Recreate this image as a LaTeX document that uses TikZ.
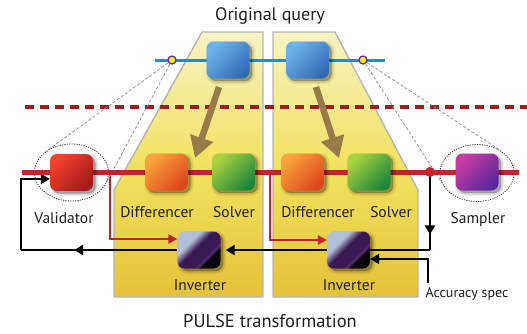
\documentclass[tikz,border=0pt]{standalone}
\usepackage{fontspec}
\setmainfont{PT Sans}
\usetikzlibrary{arrows.meta,shapes.geometric,decorations.markings}

\definecolor{ink}{HTML}{1E1E1E}
\definecolor{panelTop}{HTML}{F7F3C4}
\definecolor{panelMid}{HTML}{F2E262}
\definecolor{panelBot}{HTML}{E4C238}
\definecolor{panelEdge}{HTML}{B5B5B5}
\definecolor{wire}{HTML}{C3242C}
\definecolor{dashred}{HTML}{A31B1F}
\definecolor{qline}{HTML}{1B8FD2}
\definecolor{brown}{HTML}{9A7A48}
\definecolor{ringc}{HTML}{3A3A3A}
\definecolor{dotfill}{HTML}{F5EC20}
\definecolor{dotedge}{HTML}{6A2A90}
\definecolor{qA}{HTML}{6CB4EA}
\definecolor{qB}{HTML}{346CB4}
\definecolor{rA}{HTML}{F4422E}
\definecolor{rB}{HTML}{A51A1A}
\definecolor{oA}{HTML}{F9A63C}
\definecolor{oB}{HTML}{DE461E}
\definecolor{gA}{HTML}{AAD242}
\definecolor{gB}{HTML}{1E873A}
\definecolor{pA}{HTML}{C83CA2}
\definecolor{pB}{HTML}{58299C}
\definecolor{kA}{HTML}{B4C0D8}
\definecolor{kM}{HTML}{3A1A52}
\definecolor{kH}{HTML}{5A2A78}
\definecolor{kD}{HTML}{0A0410}

% glossy dark fill of the inverters: pale corner, purple body, black tail
\pgfdeclarehorizontalshading{invshade}{100bp}{%
  color(0bp)=(kA); color(35bp)=(kA); color(46bp)=(kM); color(61bp)=(kM);
  color(64bp)=(kH); color(67bp)=(kD); color(100bp)=(black)}

\pgfdeclarelayer{back}
\pgfdeclarelayer{wires}
\pgfsetlayers{back,wires,main}

\begin{document}
\begin{tikzpicture}[x=1pt,y=-1pt,
  softshadow/.style={
    preaction={fill=black, draw=black, line width=6pt, opacity=0.07,
      transform canvas={shift={(2.5pt,-2.5pt)}}},
    preaction={fill=black, draw=black, line width=3pt, opacity=0.09,
      transform canvas={shift={(2.5pt,-2.5pt)}}},
    preaction={fill=black, opacity=0.14,
      transform canvas={shift={(2.5pt,-2.5pt)}}}},
  box/.style={rounded corners=7pt, minimum width=43pt, minimum height=37pt,
    inner sep=0pt, softshadow},
  qbox/.style={box, top color=qA, bottom color=qB, shading angle=45},
  rbox/.style={box, top color=rA, bottom color=rB, shading angle=45},
  obox/.style={box, top color=oA, bottom color=oB, shading angle=45},
  gbox/.style={box, top color=gA, bottom color=gB, shading angle=45},
  pbox/.style={box, top color=pA, bottom color=pB, shading angle=45},
  kbox/.style={box, shade, shading=invshade, shading angle=-45},
  panel/.style={draw=panelEdge, line width=1.4pt, top color=panelTop,
    bottom color=panelBot, middle color=panelMid},
  ring/.style={ellipse, draw=ringc, line width=0.8pt,
    dash pattern=on 1.2pt off 1.2pt, minimum width=74pt, minimum height=57pt,
    inner sep=0pt},
  zoomline/.style={draw=gray!85, line width=0.8pt, dash pattern=on 3pt off 2pt},
  blk/.style={draw=black, line width=2.4pt},
  tipk/.style={-{Triangle[width=10pt,length=9pt]}},
  redthin/.style={draw=wire, line width=2.2pt, -{Triangle[width=9pt,length=9pt]}},
  arrowat/.style={postaction={decorate}, decoration={markings,
    mark=at position #1 with {\arrow{Triangle[width=10pt,length=9pt]}}}},
  lbl/.style={font=\fontsize{15.5}{18}\selectfont, text=ink, inner sep=0pt, anchor=base},
  ydot/.style={circle, fill=dotfill, draw=dotedge, line width=1.3pt,
    minimum size=8pt, inner sep=0pt},
]
\useasboundingbox (0,0) rectangle (527,333);

% the two transformation panels
\begin{pgfonlayer}{back}
\shadedraw[panel] (202,32) -- (263,32) -- (263,297) -- (114,297) -- (114,190) -- cycle;
\shadedraw[panel] (273,32) -- (335,32) -- (418,190) -- (418,297) -- (273,297) -- cycle;
\end{pgfonlayer}

% dashed boundary
\draw[dashred, line width=4pt, dash pattern=on 9pt off 6pt] (25,107) -- (527,107);

% rings around the validator and the sampler
\node[ring] (valring) at (71.5,172.5) {};
\node[ring] (sampring) at (477,173) {};

% zoom lines from the query line to the rings
\coordinate (y1c) at (172,60);
\coordinate (y2c) at (363,60);
\draw[zoomline] (y1c) -- (valring.142);
\draw[zoomline] (y1c) -- (valring.-15);
\draw[zoomline] (y2c) -- (sampring.42);
\draw[zoomline] (y2c) -- (sampring.195);

% query line
\coordinate (qs) at (155,60);
\coordinate (qe) at (385,60);
\draw[qline, line width=3pt] (qs) -- (qe);
\node[ydot] (y1) at (y1c) {};
\node[ydot] (y2) at (y2c) {};

% main pipeline wire
\coordinate (ws) at (22,172);
\coordinate (we) at (519,172);
\draw[wire, line width=5pt] (ws) -- (we);

% boxes
\node[qbox] (q1) at (228,60) {};
\node[qbox] (q2) at (307.5,60) {};
\node[rbox] (val) at (71.5,172.5) {};
\node[obox] (dif1) at (166.5,172) {};
\node[gbox] (sol1) at (233.5,172) {};
\node[obox] (dif2) at (302.5,172) {};
\node[gbox] (sol2) at (369,172) {};
\node[pbox] (samp) at (477,172) {};
\node[kbox] (inv1) at (199,250) {};
\node[kbox] (inv2) at (348.5,250) {};

% junction dot
\node[circle, fill=wire, minimum size=10pt, inner sep=0pt] (dot) at (430,172) {};

% branch points and bends
\coordinate (br1) at (110,172);
\coordinate (br2) at (270,172);
\coordinate (corner) at (430,250);
\coordinate (lowleft) at (21,250);
\coordinate (valin) at (21,179);
\coordinate (accbot) at (428,283);

\begin{pgfonlayer}{wires}
% red branches into the inverters
\draw[redthin] (br1) |- ([yshift=11pt]inv1.west);
\draw[redthin] (br2) |- ([yshift=10pt]inv2.west);

% feedback path
\draw[blk, arrowat=0.8] (dot.center) -- (corner);
\draw[blk] (corner) -- (inv2.center);
\draw[blk, tipk, shorten >=5pt] (inv2.center) -- (inv1.east);
\draw[blk, arrowat=0.66] (inv1.west) -- (lowleft);
\draw[blk, tipk] (lowleft) -- (valin) -- (val.west |- valin);

% accuracy spec input
\draw[blk, tipk] (accbot) |- ([yshift=-9pt]inv2.east);
\end{pgfonlayer}

% derivation arrows
\coordinate (a1s) at (219,87);
\coordinate (a1e) at (195,158);
\coordinate (a2s) at (316,87);
\coordinate (a2e) at (339,158);
\draw[brown, line width=6.5pt, -{Triangle[width=23pt,length=21pt]}] (a1s) -- (a1e);
\draw[brown, line width=6.5pt, -{Triangle[width=23pt,length=21pt]}] (a2s) -- (a2e);

% labels
\node[lbl, font=\fontsize{18}{21}\selectfont] (title) at (270,20) {Original query};
\node[lbl, font=\fontsize{18.5}{21}\selectfont] (foot) at (270,327) {PULSE transformation};
\node[lbl] (tval) at (64,223) {Validator};
\node[lbl] (tdif1) at (157,217) {Differencer};
\node[lbl] (tsol1) at (234,217) {Solver};
\node[lbl] (tdif2) at (318,217) {Differencer};
\node[lbl] (tsol2) at (391,217) {Solver};
\node[lbl] (tsamp) at (478,223) {Sampler};
\node[lbl] (tinv1) at (200,290) {Inverter};
\node[lbl] (tinv2) at (349,290) {Inverter};
\node[lbl, font=\fontsize{14}{16}\selectfont] (tacc) at (467,297) {Accuracy spec};
\end{tikzpicture}
\end{document}
